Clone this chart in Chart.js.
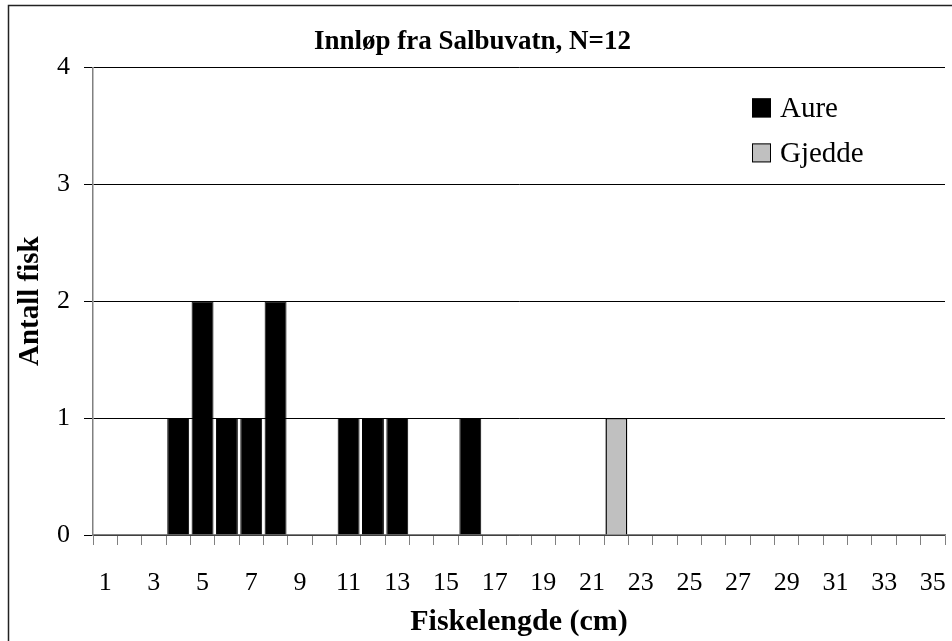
<!DOCTYPE html>
<html>
<head>
<meta charset="utf-8">
<script src="https://cdn.jsdelivr.net/npm/chart.js@4"></script>
<style>
html,body{margin:0;padding:0;background:#fff;}
#wrap{width:952px;height:641px;position:relative;}
</style>
</head>
<body>
<div id="wrap"><canvas id="c" width="952" height="641"></canvas></div>
<script>
const categories = ['1','2','3','4','5','6','7','8','9','10','11','12','13','14','15','16','17','18','19','20','21','22','23','24','25','26','27','28','29','30','31','32','33','34','35'];
const aure   = [0,0,0,1,2,1,1,2,0,0,1,1,1,0,0,1,0,0,0,0,0,0,0,0,0,0,0,0,0,0,0,0,0,0,0];
const gjedde = [0,0,0,0,0,0,0,0,0,0,0,0,0,0,0,0,0,0,0,0,0,1,0,0,0,0,0,0,0,0,0,0,0,0,0];
const yTicks = [0,1,2,3,4];
const titleText = 'Innløp fra Salbuvatn, N=12';
const xTitle = 'Fiskelengde (cm)';
const yTitle = 'Antall fisk';

const SERIF = '"Liberation Serif", "Times New Roman", serif';

const framePlugin = {
  id: 'frame',
  beforeDraw(chart) {
    const ctx = chart.ctx;
    ctx.save();
    ctx.fillStyle = '#fff';
    ctx.fillRect(0, 0, chart.width, chart.height);
    ctx.strokeStyle = '#222';
    ctx.lineWidth = 1.5;
    ctx.beginPath();
    ctx.moveTo(8.5, chart.height + 5);
    ctx.lineTo(8.5, 5.5);
    ctx.lineTo(chart.width + 5, 5.5);
    ctx.stroke();
    ctx.restore();
  }
};

const legendPlugin = {
  id: 'innerLegend',
  afterDraw(chart) {
    const ctx = chart.ctx;
    const a = chart.chartArea;
    ctx.save();
    ctx.font = '29px ' + SERIF;
    ctx.textBaseline = 'middle';
    ctx.textAlign = 'left';
    chart.data.datasets.forEach((ds, i) => {
      const bx = a.right - 193, by = a.top + 31 + i * 45, s = 19;
      ctx.fillStyle = ds.backgroundColor;
      ctx.fillRect(bx, by, s, s);
      ctx.strokeStyle = '#000';
      ctx.lineWidth = 1;
      ctx.strokeRect(bx + 0.5, by + 0.5, s - 1, s - 1);
      ctx.fillStyle = '#000';
      ctx.fillText(ds.label, bx + 28, by + s / 2 + 1);
    });
    ctx.restore();
  }
};

new Chart(document.getElementById('c'), {
  type: 'bar',
  data: {
    labels: categories,
    datasets: [
      { label: 'Aure', data: aure, backgroundColor: '#000000', borderColor: '#000', borderWidth: 1 },
      { label: 'Gjedde', data: gjedde, backgroundColor: '#c0c0c0', borderColor: '#000', borderWidth: 1.5 }
    ]
  },
  options: {
    responsive: false,
    animation: false,
    devicePixelRatio: 1,
    layout: { padding: { left: 0, right: 7, top: 0, bottom: 0 } },
    datasets: { bar: { barPercentage: 0.9, categoryPercentage: 1.0 } },
    plugins: {
      legend: { display: false },
      tooltip: { enabled: false },
      title: {
        display: true,
        text: titleText,
        color: '#000',
        font: { family: SERIF, size: 27, weight: 'bold' },
        padding: { top: 26, bottom: 9 }
      }
    },
    scales: {
      x: {
        stacked: true,
        grid: { display: true, drawOnChartArea: false, drawTicks: true, tickLength: 10, color: '#808080', offset: true },
        border: { display: true, color: '#808080', width: 1.5 },
        ticks: {
          autoSkip: false, maxRotation: 0, color: '#000', padding: 23,
          font: { family: SERIF, size: 26 },
          callback: function (v, i) { return (i % 2 === 0) ? categories[i] : ''; }
        },
        title: { display: true, text: xTitle, color: '#000', font: { family: SERIF, size: 30, weight: 'bold' }, padding: { top: 0, bottom: 1 } },
        afterFit(scale) { scale.height = 106; scale.paddingLeft = 0; scale.paddingRight = 0; }
      },
      y: {
        stacked: true,
        min: 0, max: 4,
        afterBuildTicks(scale) { scale.ticks = yTicks.map(v => ({ value: v })); },
        grid: { color: '#000', lineWidth: 1, drawTicks: true, tickLength: 9 },
        border: { display: true, color: '#808080', width: 1.5 },
        ticks: { color: '#000', padding: 14, font: { family: SERIF, size: 26 } },
        title: { display: true, text: yTitle, color: '#000', font: { family: SERIF, size: 29, weight: 'bold' }, padding: { top: 13, bottom: 0 } },
        afterFit(scale) { scale.width = 93; }
      }
    }
  },
  plugins: [framePlugin, legendPlugin]
});
</script>
</body>
</html>
